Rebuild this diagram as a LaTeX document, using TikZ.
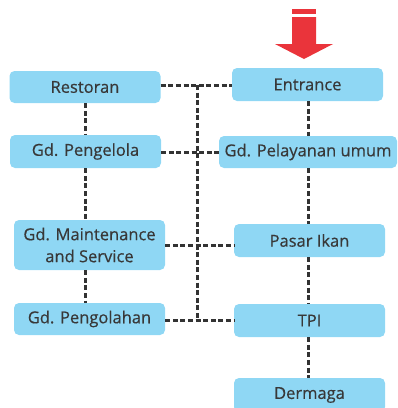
\documentclass[tikz,border=0pt]{standalone}
\usepackage{fontspec}
\setmainfont{Open Sans}
\newfontfamily\boxfont[FakeBold=0.5]{Open Sans}
\begin{document}
\begin{tikzpicture}[x=1pt,y=-1pt,
  box/.style={fill=boxblue, rounded corners=5pt, text=textgray, font=\boxfont\fontsize{16.5}{22}\selectfont, inner sep=0pt, align=center},
  link/.style={draw=linegray, line width=3pt, dash pattern=on 5pt off 2.6pt}]
\definecolor{boxblue}{HTML}{8FD7F4}
\definecolor{textgray}{HTML}{383838}
\definecolor{linegray}{HTML}{333333}
\definecolor{arrowred}{HTML}{EA343B}
\useasboundingbox (0,0) rectangle (398,408);

% boxes: left column
\node[box, minimum width=151pt, minimum height=32pt] (rest) at (85,87) {Restoran};
\node[box, minimum width=151pt, minimum height=33pt] (peng) at (85.5,151.5) {Gd. Pengelola};
\node[box, minimum width=151pt, minimum height=50pt] (main) at (89.5,245) {Gd. Maintenance\\and Service};
\node[box, minimum width=151pt, minimum height=32pt] (olah) at (89.5,319) {Gd. Pengolahan};

% boxes: right column
\node[box, minimum width=151pt, minimum height=33pt] (ent) at (307.5,84.5) {Entrance};
\node[box, minimum width=178pt, minimum height=32pt] (pel) at (308,152) {Gd. Pelayanan umum};
\node[box, minimum width=151pt, minimum height=33pt] (pasar) at (309.5,240.5) {Pasar Ikan};
\node[box, minimum width=151pt, minimum height=33pt] (tpi) at (309.5,320.5) {TPI};
\node[box, minimum width=151pt, minimum height=34pt] (derm) at (309.5,395) {Dermaga};

% vertical links, left column
\draw[link] (rest.south -| 85,0) -- (peng.north -| 85,0);
\draw[link] (peng.south -| 85,0) -- (main.north -| 85,0);
\draw[link] (main.south -| 85,0) -- (olah.north -| 85,0);

% vertical links, right column
\draw[link] (ent.south -| 308,0) -- (pel.north -| 308,0);
\draw[link] (pel.south -| 308,0) -- (pasar.north -| 308,0);
\draw[link] (pasar.south -| 308,0) -- (tpi.north -| 308,0);
\draw[link] (tpi.south -| 308,0) -- (derm.north -| 308,0);

% horizontal links
\draw[link] (rest.east |- 0,85) -- (ent.west |- 0,85);
\draw[link] (peng.east |- 0,152) -- (pel.west |- 0,152);
\draw[link] (main.east |- 0,245) -- (pasar.west |- 0,245);
\draw[link] (olah.east |- 0,320) -- (tpi.west |- 0,320);

% central trunk
\coordinate (ttop) at (197,85);
\coordinate (tbot) at (197,320);
\draw[link] (ttop) -- (tbot);

% entry arrow
\fill[arrowred] (292,9) rectangle (316,14);
\fill[arrowred] (292,17) -- (316,17) -- (316,44) -- (333,44) -- (304,59) -- (275,44) -- (292,44) -- cycle;
\end{tikzpicture}
\end{document}
